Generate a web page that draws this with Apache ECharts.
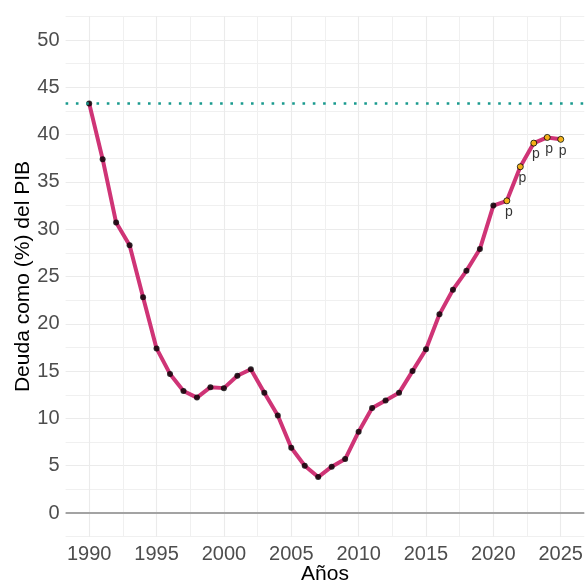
<!DOCTYPE html>
<html>
<head>
<meta charset="utf-8">
<script src="https://cdn.jsdelivr.net/npm/echarts@6/dist/echarts.min.js"></script>
<style>
html,body{margin:0;padding:0;background:#fff;}
#chart{width:587px;height:582px;}
</style>
</head>
<body>
<div id="chart"></div>
<script>
const years = [1990,1991,1992,1993,1994,1995,1996,1997,1998,1999,2000,2001,2002,2003,2004,2005,2006,2007,2008,2009,2010,2011,2012,2013,2014,2015,2016,2017,2018,2019,2020,2021,2022,2023,2024,2025];
const deuda = [43.3,37.4,30.7,28.3,22.8,17.4,14.7,12.9,12.2,13.3,13.2,14.5,15.2,12.7,10.3,6.9,5.0,3.8,4.9,5.7,8.6,11.1,11.9,12.7,15.0,17.3,21.0,23.6,25.6,27.9,32.5,33.0,36.6,39.1,39.7,39.5];
const provisional = [2021,2022,2023,2024,2025];
const referencia = 43.3;
const xMajor = [1990,1995,2000,2005,2010,2015,2020,2025];
const xMinor = [1992.5,1997.5,2002.5,2007.5,2012.5,2017.5,2022.5];
const yTicks = [0,5,10,15,20,25,30,35,40,45,50];

const FONT = '"Liberation Sans", Arial, Helvetica, sans-serif';
const pts = years.map((y,i)=>[y, deuda[i]]);
const firmes = pts.filter(p => provisional.indexOf(p[0]) < 0);
const prov = pts.filter(p => provisional.indexOf(p[0]) >= 0);

const chart = echarts.init(document.getElementById('chart'), null, {renderer:'canvas'});
chart.setOption({
  animation:false,
  backgroundColor:'#ffffff',
  grid:{left:65.6, right:2.7, top:16.35, bottom:45.35, containLabel:false, outerBoundsMode:'none'},
  xAxis:[{
    type:'value', min:1988.25, max:2026.75,
    name:'Años', nameLocation:'middle', nameGap:27.5, nameMoveOverlap:false,
    nameTextStyle:{color:'#000', fontSize:21, fontFamily:FONT},
    axisLine:{show:false},
    axisTick:{show:false, customValues:xMajor},
    axisLabel:{customValues:xMajor, color:'#4d4d4d', fontSize:20, fontFamily:FONT, margin:7.5,
      formatter:v => String(v)},
    splitLine:{show:true, lineStyle:{color:'#ebebeb', width:1.1}}
  },{
    type:'value', min:1988.25, max:2026.75, position:'bottom',
    axisLine:{show:false},
    axisTick:{show:false, customValues:xMinor},
    axisLabel:{show:false, customValues:xMinor},
    splitLine:{show:true, lineStyle:{color:'#f0f0f0', width:1}}
  }],
  yAxis:{
    type:'value', min:-2.5, max:52.5, interval:2.5,
    name:'Deuda como (%) del PIB', nameLocation:'middle', nameGap:32, nameMoveOverlap:false,
    nameTextStyle:{color:'#000', fontSize:21, fontFamily:FONT},
    axisLine:{show:false}, axisTick:{show:false},
    axisLabel:{color:'#4d4d4d', fontSize:20, fontFamily:FONT, margin:6,
      formatter:v => (yTicks.indexOf(v) >= 0 ? String(v) : '')},
    splitLine:{show:true, lineStyle:{color:['#f0f0f0','#ebebeb'], width:1.1}}
  },
  series:[
    {
      type:'line', data:[], silent:true, z:1,
      markLine:{silent:true, symbol:'none', animation:false, label:{show:false},
        data:[
          {yAxis:0, lineStyle:{color:'#a3a3a3', width:2.2, type:'solid'}},
          {yAxis:referencia, lineStyle:{color:'#1a9a8e', width:2.6, type:[2.6,7.7], cap:'butt'}}
        ]}
    },
    {
      type:'line', data:pts, showSymbol:false, z:3,
      lineStyle:{color:'#cf3476', width:4, cap:'round', join:'round'}
    },
    {
      type:'scatter', data:firmes, symbol:'circle', symbolSize:6, z:4,
      itemStyle:{color:'#000000'}
    },
    {
      type:'scatter', data:prov, symbol:'circle', symbolSize:6, z:5,
      itemStyle:{color:'#ffcc00', borderColor:'#000000', borderWidth:1},
      label:{show:true, formatter:'p', position:'bottom', distance:1, offset:[2,0],
        color:'#000', fontSize:14, fontFamily:FONT}
    }
  ]
});
</script>
</body>
</html>
